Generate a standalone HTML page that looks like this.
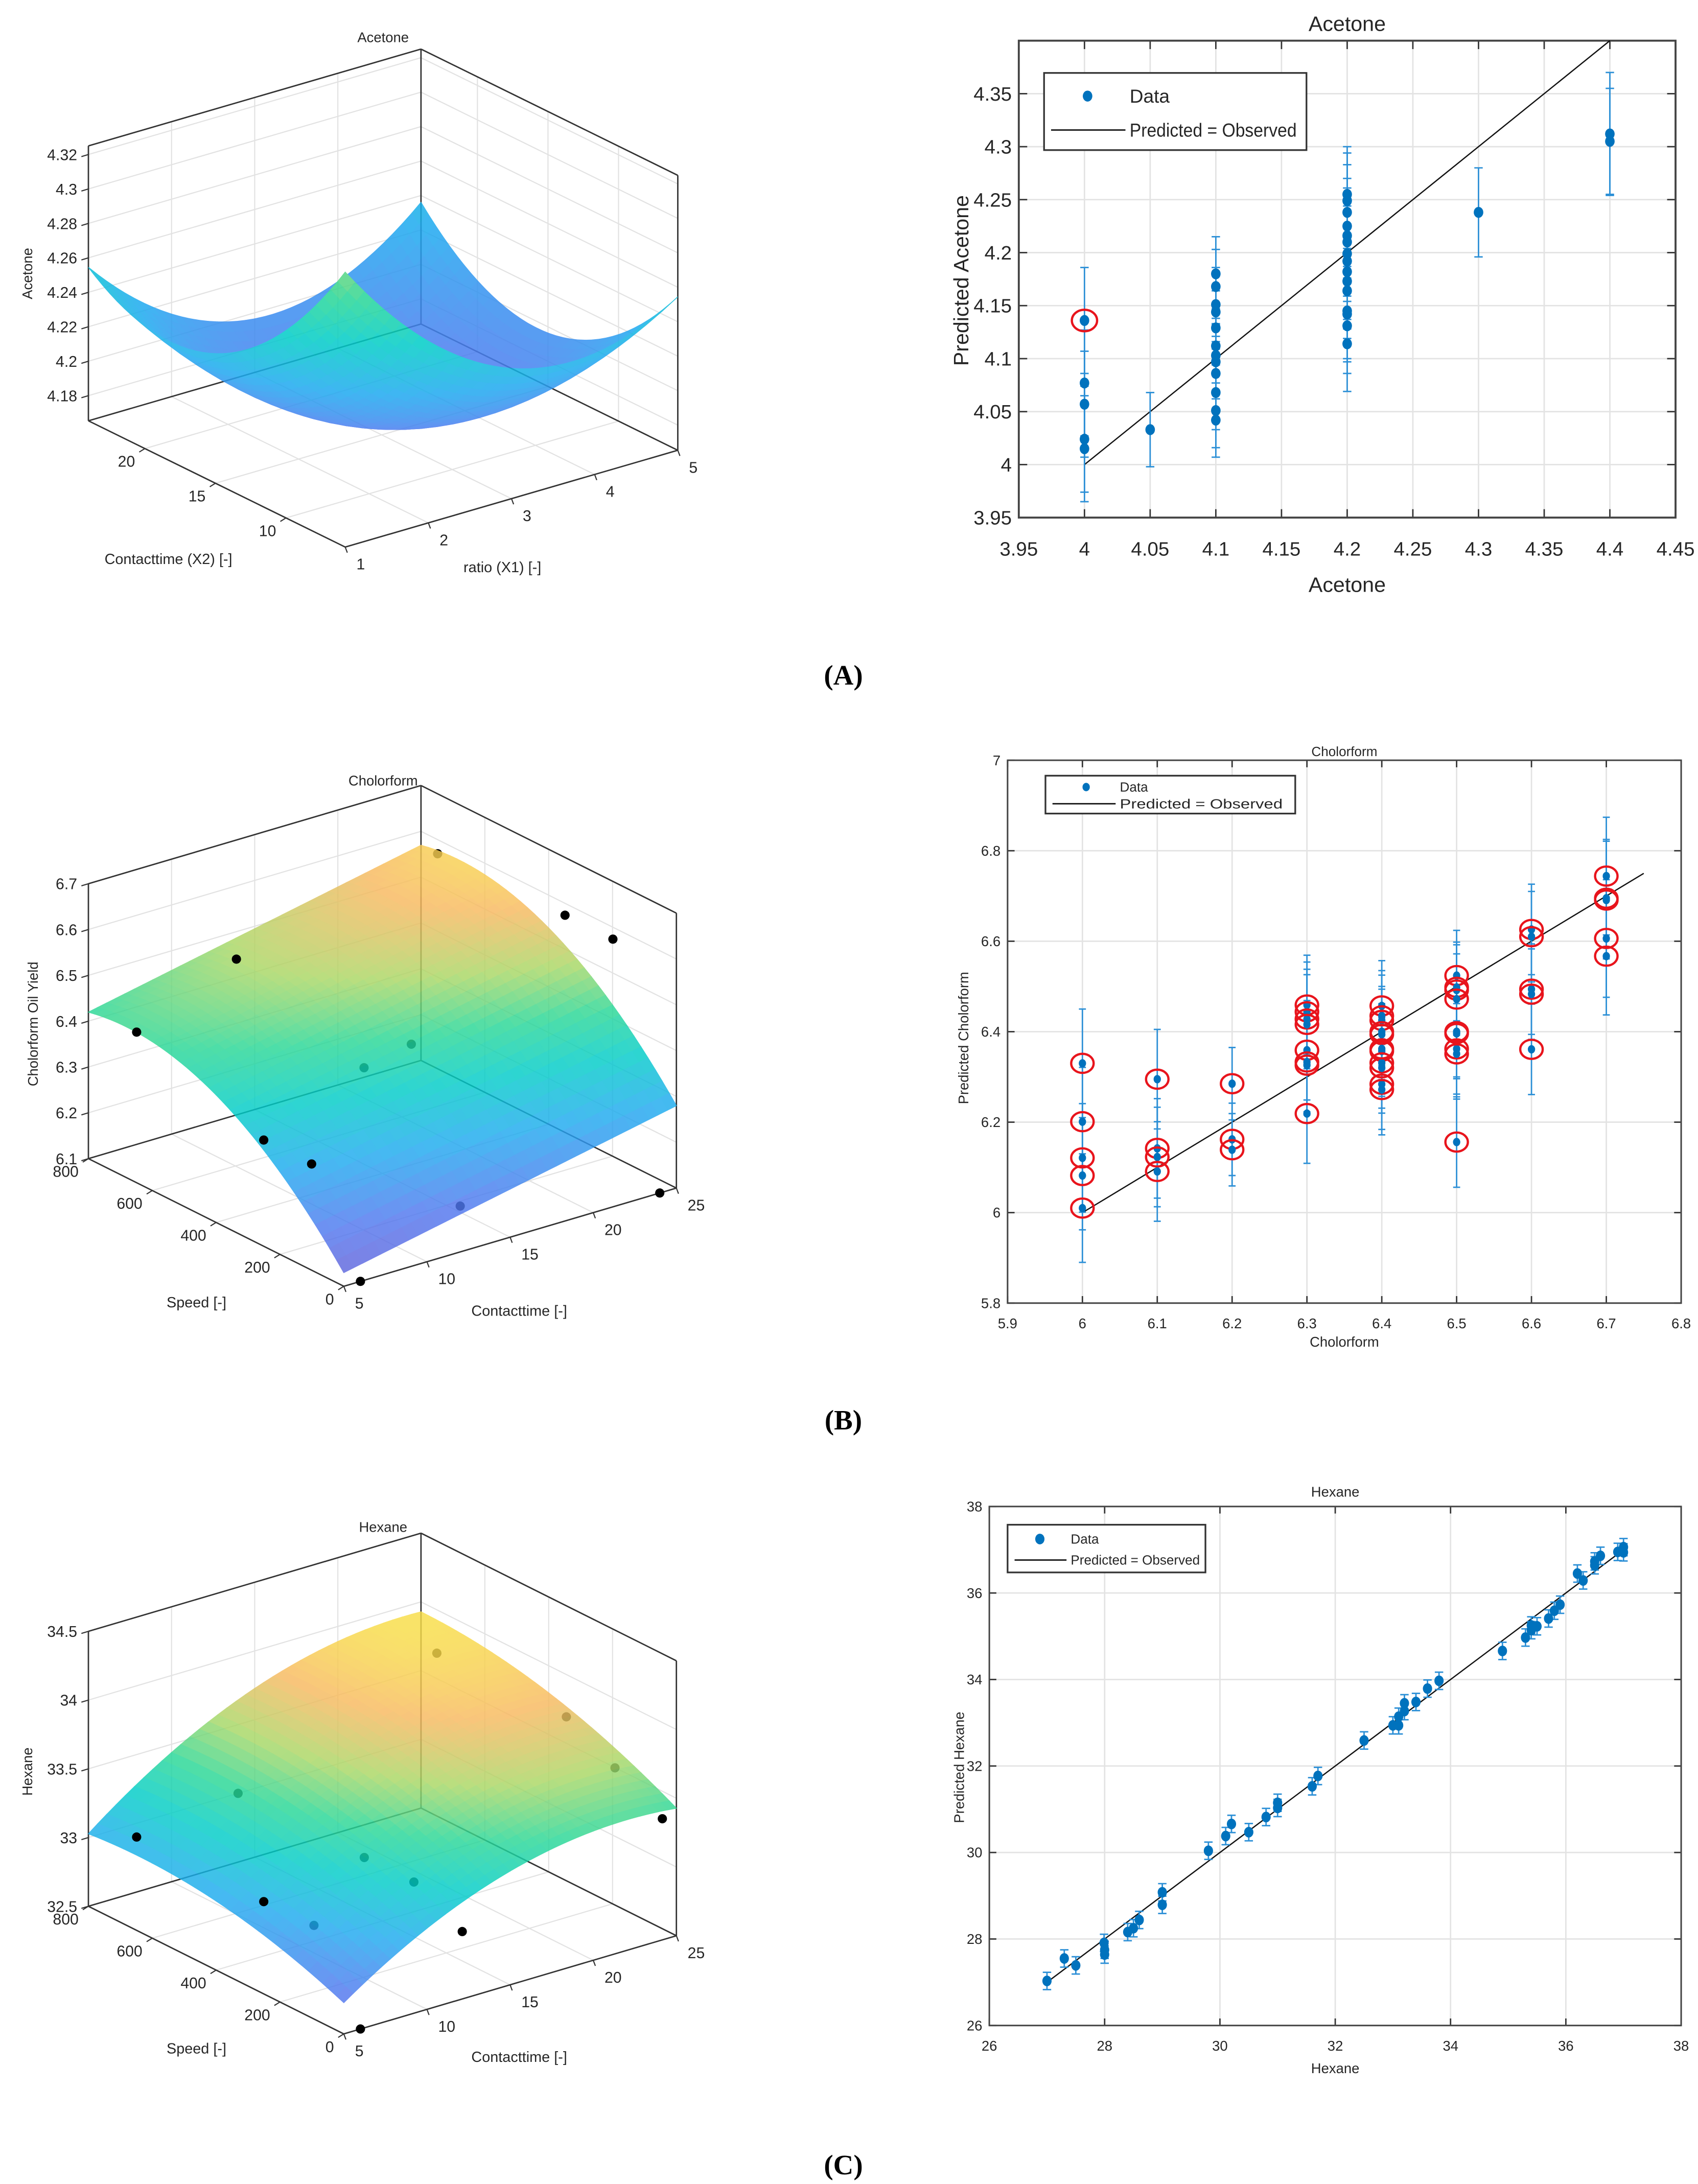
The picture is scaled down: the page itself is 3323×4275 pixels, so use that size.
<!DOCTYPE html>
<html><head><meta charset="utf-8">
<style>
html,body{margin:0;padding:0;background:#fff;}
svg{display:block;font-family:"Liberation Sans",Arial,sans-serif;}
</style></head>
<body>
<svg id="fig" xmlns="http://www.w3.org/2000/svg" width="3323" height="4275" viewBox="0 0 1210 1557" preserveAspectRatio="none">
<rect x="0" y="0" width="1210" height="1557" fill="#fff"/>
<text x="601" y="488" font-family="Liberation Serif,serif" font-weight="bold" font-size="20" text-anchor="middle">(A)</text>
<text x="601" y="1019" font-family="Liberation Serif,serif" font-weight="bold" font-size="20" text-anchor="middle">(B)</text>
<text x="601" y="1550" font-family="Liberation Serif,serif" font-weight="bold" font-size="20" text-anchor="middle">(C)</text>
</svg>
<script>
// ---------- Scatter data: Acetone ----------
const aX=[4,4,4,4,4,4.05,4.1,4.1,4.1,4.1,4.1,4.1,4.1,4.1,4.1,4.1,4.1,4.1,4.2,4.2,4.2,4.2,4.2,4.2,4.2,4.2,4.2,4.2,4.2,4.2,4.2,4.2,4.2,4.3,4.4,4.4];
const aY=[4.136,4.077,4.057,4.024,4.015,4.033,4.18,4.168,4.151,4.144,4.129,4.112,4.103,4.097,4.086,4.068,4.051,4.042,4.255,4.249,4.238,4.225,4.216,4.21,4.199,4.192,4.182,4.173,4.164,4.145,4.142,4.131,4.114,4.238,4.312,4.305];
const aErr=[0.05,0.05,0.05,0.05,0.05,0.035,0.035,0.035,0.035,0.035,0.035,0.035,0.035,0.035,0.035,0.035,0.035,0.035,0.045,0.045,0.045,0.045,0.045,0.045,0.045,0.045,0.045,0.045,0.045,0.045,0.045,0.045,0.045,0.042,0.058,0.05];
const aCircled=[1,0,0,0,0,0,0,0,0,0,0,0,0,0,0,0,0,0,0,0,0,0,0,0,0,0,0,0,0,0,0,0,0,0,0,0];
const aXTicks=[3.95,4,4.05,4.1,4.15,4.2,4.25,4.3,4.35,4.4,4.45];
const aXLabels=["3.95","4","4.05","4.1","4.15","4.2","4.25","4.3","4.35","4.4","4.45"];
const aYTicks=[3.95,4,4.05,4.1,4.15,4.2,4.25,4.3,4.35];
const aYLabels=["3.95","4","4.05","4.1","4.15","4.2","4.25","4.3","4.35"];
const aLine=[4,4.4];
// ---------- Scatter data: Cholorform ----------
const bX=[6,6,6,6,6,6.1,6.1,6.1,6.1,6.2,6.2,6.2,6.3,6.3,6.3,6.3,6.3,6.3,6.3,6.3,6.4,6.4,6.4,6.4,6.4,6.4,6.4,6.4,6.4,6.4,6.4,6.5,6.5,6.5,6.5,6.5,6.5,6.5,6.5,6.5,6.6,6.6,6.6,6.6,6.6,6.7,6.7,6.7,6.7,6.7];
const bY=[6.33,6.201,6.121,6.082,6.01,6.295,6.142,6.123,6.091,6.285,6.162,6.139,6.459,6.444,6.428,6.416,6.359,6.333,6.326,6.219,6.457,6.435,6.425,6.40,6.394,6.362,6.357,6.331,6.32,6.284,6.272,6.524,6.498,6.492,6.472,6.40,6.396,6.362,6.351,6.156,6.626,6.61,6.494,6.483,6.361,6.744,6.695,6.691,6.606,6.567];
const bErrGroup=[0.12,0.11,0.08,0.11,0.1,0.1,0.1,0.13];
const bXTicks=[5.9,6,6.1,6.2,6.3,6.4,6.5,6.6,6.7,6.8];
const bXLabels=["5.9","6","6.1","6.2","6.3","6.4","6.5","6.6","6.7","6.8"];
const bYTicks=[5.8,6,6.2,6.4,6.6,6.8,7];
const bYLabels=["5.8","6","6.2","6.4","6.6","6.8","7"];
const bLine=[6,6.75];
// ---------- Scatter data: Hexane ----------
const cX=[27.0,27.3,27.5,27.99,28,28,28.4,28.5,28.6,29,29,29.8,30.1,30.2,30.5,30.8,31.0,31.0,31.6,31.7,32.5,33.0,33.1,33.1,33.2,33.2,33.4,33.6,33.8,34.9,35.3,35.4,35.4,35.5,35.7,35.8,35.9,36.2,36.3,36.5,36.5,36.6,36.9,37.0,37.0];
const cY=[27.03,27.55,27.39,27.91,27.75,27.64,28.16,28.25,28.44,29.08,28.79,30.04,30.38,30.66,30.47,30.82,31.15,31.03,31.53,31.77,32.59,32.94,32.94,33.14,33.27,33.45,33.48,33.79,33.97,34.66,34.97,35.14,35.25,35.23,35.41,35.59,35.73,36.45,36.29,36.64,36.73,36.86,36.95,37.06,36.94];
const cErr=0.2;
const cXTicks=[26,28,30,32,34,36,38];
const cXLabels=["26","28","30","32","34","36","38"];
const cYTicks=[26,28,30,32,34,36,38];
const cYLabels=["26","28","30","32","34","36","38"];
const cLine=[27,36.95];
// ---------- 3D data ----------
const bCt=[7.9,13.9,11.3,11.3,11.9,17.2,22.2,24.1,24.1,12,24,6];
const bSp=[800,800,579,429,296,424,602,302,152,0,0,0];
const bYl=[6.345,6.44,6.15,6.15,6.40,6.35,6.65,6.6,6.6,6.2,6.1,6.1];
const bHidden=[0,0,0,0,1,1,1,1,0,1,0,0];
const cCt=[7.9,14,9.9,10,10.8,12.9,18.6,21.8,22.9,14.1,25,6];
const cSp=[800,800,506,354,238,192,417,178,83,103,44,0];
const cYl=[32.9,33.0,32.7,32.7,33.3,33.1,34.3,34.0,33.7,32.8,33.3,32.5];
const cHidden=[0,1,0,1,1,1,1,1,1,1,0,0];
const aZTicks=[4.18,4.2,4.22,4.24,4.26,4.28,4.3,4.32];
const aZLabels=["4.18","4.2","4.22","4.24","4.26","4.28","4.3","4.32"];
const bZTicks=[6.1,6.2,6.3,6.4,6.5,6.6,6.7];
const bZLabels=["6.1","6.2","6.3","6.4","6.5","6.6","6.7"];
const cZTicks=[32.5,33,33.5,34,34.5];
const cZLabels=["32.5","33","33.5","34","34.5"];
const ratioTicks=[1,2,3,4,5];
const ctTicksA=[10,15,20];
const ctTicksBC=[5,10,15,20,25];
const speedTicks=[0,200,400,600,800];

const NS='http://www.w3.org/2000/svg';
const svg=document.getElementById('fig');
function mk(tag,attrs,parent){const e=document.createElementNS(NS,tag);for(const k in attrs)e.setAttribute(k,attrs[k]);(parent||svg).appendChild(e);return e;}
function txt(parent,x,y,s,size,anchor,extra){const t=mk('text',Object.assign({x:x,y:y,'font-size':size,'text-anchor':anchor||'middle',fill:'#262626'},extra||{}),parent);t.textContent=s;return t;}

// ---------- 2D scatter ----------
function scatter(p){
  const g=mk('g',{});
  
  
  const sx=v=>p.px0+(v-p.x0)/(p.x1-p.x0)*(p.px1-p.px0);
  const sy=v=>p.py0+(v-p.y0)/(p.y1-p.y0)*(p.py1-p.py0);
  const L=p.px0,Rt=p.px1,B=p.py0,T=p.py1;
  p.xt.forEach((v,i)=>{
    const x=sx(v);
    const gl=mk('line',{x1:x,x2:x,y1:T,y2:B,stroke:'#e3e3e3','stroke-width':1},g);
    
    
    mk('line',{x1:x,x2:x,y1:B,y2:B-p.tk,stroke:'#333','stroke-width':1},g);
    mk('line',{x1:x,x2:x,y1:T,y2:T+p.tk,stroke:'#333','stroke-width':1},g);
    const t=txt(g,x,B+p.xlo,p.xl[i],p.fs);
    
    
  });
  p.yt.forEach((v,i)=>{
    const y=sy(v);
    const gl=mk('line',{x1:L,x2:Rt,y1:y,y2:y,stroke:'#e3e3e3','stroke-width':1},g);
    
    
    mk('line',{x1:L,x2:L+p.tk,y1:y,y2:y,stroke:'#333','stroke-width':1},g);
    mk('line',{x1:Rt,x2:Rt-p.tk,y1:y,y2:y,stroke:'#333','stroke-width':1},g);
    const t=txt(g,L-5,y+p.fs*0.35,p.yl[i],p.fs,'end');
    
    
  });
  const box=mk('rect',{x:L,y:T,width:Rt-L,height:B-T,fill:'none',stroke:'#444','stroke-width':p.bw},g);
  
  
  const ln=mk('line',{x1:sx(p.line[0]),y1:sy(p.line[0]),x2:sx(p.line[1]),y2:sy(p.line[1]),stroke:'#111','stroke-width':0.9},g);
  
  
  for(let i=0;i<p.X.length;i++){
    const x=sx(p.X[i]);const e=p.err(i);
    const eb=mk('path',{d:`M${x} ${sy(p.Y[i]-e)}V${sy(p.Y[i]+e)}M${x-p.cap} ${sy(p.Y[i]-e)}h${2*p.cap}M${x-p.cap} ${sy(p.Y[i]+e)}h${2*p.cap}`,stroke:'#2b8fd6','stroke-width':1,fill:'none'},g);
    
    
  }
  for(let i=0;i<p.X.length;i++){
    const x=sx(p.X[i]),y=sy(p.Y[i]);
    const d=mk('ellipse',{cx:x,cy:y,rx:p.r,ry:p.r*1.15,fill:'#0072bd'},g);
    
    
    if(p.circ(i)){
      const c=mk('ellipse',{cx:x,cy:y,rx:p.cr,ry:p.cr*0.85,fill:'none',stroke:'#e8141c','stroke-width':1.6},g);
      
      
    }
  }
  const tt=txt(g,(L+Rt)/2,p.ty,p.title,p.tfs);
  
  
  const xa=txt(g,(L+Rt)/2,p.xay,p.xlabel,p.afs);
  
  
  const ya=txt(g,0,0,p.ylabel,p.afs,'middle',{transform:`translate(${p.yax},${p.yay}) rotate(-90)`});
  
  
  const lg=p.lg;
  const lgb=mk('rect',{x:lg[0],y:lg[1],width:lg[2]-lg[0],height:lg[3]-lg[1],fill:'#fff',stroke:'#333','stroke-width':1.2},g);
  
  
  const h=lg[3]-lg[1];
  const y1=lg[1]+h*0.3,y2=lg[1]+h*0.74;
  const lm=mk('ellipse',{cx:lg[0]+p.lgm,cy:y1,rx:p.r,ry:p.r*1.15,fill:'#0072bd'},g);
  
  
  const t1=txt(g,lg[0]+p.lgt,y1+p.lfs*0.35,'Data',p.lfs,'start');
  
  
  const ll=mk('line',{x1:lg[0]+5,x2:lg[0]+p.lgt-3,y1:y2,y2:y2,stroke:'#111','stroke-width':1},g);
  
  
  const t2=txt(g,lg[0]+p.lgt,y2+p.lfs*0.35,'Predicted = Observed',p.lfs,'start',{textLength:p.lgw,lengthAdjust:'spacingAndGlyphs'});
  
  
}
scatter({name:'acetone-parity-plot',X:aX,Y:aY,err:i=>aErr[i],circ:i=>aCircled[i],x0:3.95,x1:4.45,px0:726,px1:1194,y0:3.95,y1:4.40,py0:369,py1:29,
  xt:aXTicks,xl:aXLabels,yt:aYTicks,yl:aYLabels,line:aLine,fs:14,tk:6,xlo:27,bw:1.4,r:3.4,cr:9,cap:3,
  title:'Acetone',ty:22,tfs:15,xlabel:'Acetone',xay:422,afs:15,ylabel:'Predicted Acetone',yax:690,yay:200,lg:[744,52,931,107],lgm:31,lgt:61,lfs:13.5,lgw:119});
const bGroupIdx=v=>Math.round((v-6)*10);
scatter({name:'cholorform-parity-plot',X:bX,Y:bY,err:i=>bErrGroup[bGroupIdx(bX[i])],circ:i=>1,x0:5.9,x1:6.8,px0:718,px1:1198,y0:5.8,y1:7,py0:929,py1:542,
  xt:bXTicks,xl:bXLabels,yt:bYTicks,yl:bYLabels,line:bLine,fs:10,tk:5,xlo:18,bw:1.1,r:2.6,cr:8,cap:2.5,
  title:'Cholorform',ty:539,tfs:9.5,xlabel:'Cholorform',xay:960,afs:10,ylabel:'Predicted Cholorform',yax:690,yay:740,lg:[745,553,923,580],lgm:29,lgt:53,lfs:9.5,lgw:116});
scatter({name:'hexane-parity-plot',X:cX,Y:cY,err:i=>cErr,circ:i=>0,x0:26,x1:38,px0:705,px1:1198,y0:26,y1:38,py0:1444,py1:1074,
  xt:cXTicks,xl:cXLabels,yt:cYTicks,yl:cYLabels,line:cLine,fs:10,tk:5,xlo:18,bw:1.1,r:3.3,cr:0,cap:3,
  title:'Hexane',ty:1067,tfs:10,xlabel:'Hexane',xay:1478,afs:10,ylabel:'Predicted Hexane',yax:687,yay:1260,lg:[718,1087,859,1121],lgm:23,lgt:45,lfs:9.5,lgw:92});

// ---------- 3D surface plots ----------
const parulaStops=[[0,[106,90,210]],[0.18,[80,120,240]],[0.35,[30,170,240]],[0.5,[0,205,200]],[0.62,[40,215,150]],[0.74,[170,215,100]],[0.86,[248,185,95]],[1,[248,240,60]]];
function cmap(t){t=Math.max(0,Math.min(1,t));for(let i=1;i<parulaStops.length;i++){if(t<=parulaStops[i][0]){const[a0,c0]=parulaStops[i-1],[a1,c1]=parulaStops[i];const f=(t-a0)/(a1-a0);return `rgb(${c0.map((c,k)=>Math.round(c+(c1[k]-c)*f)).join(',')})`;}}return 'rgb(248,240,60)';}
function plot3d(p){
  const g=mk('g',{});
  
  
  const F=p.F,R=p.R,L=p.L,H=p.H;
  const P=(a,b,z)=>[F[0]+a*(R[0]-F[0])+b*(L[0]-F[0]),F[1]+a*(R[1]-F[1])+b*(L[1]-F[1])-(z-p.z0)/(p.z1-p.z0)*H];
  const ua=v=>(v-p.a0)/(p.a1-p.a0), ub=v=>(v-p.b0)/(p.b1-p.b0);
  const line=(q1,q2,st,w,nm)=>{const l=mk('line',{x1:q1[0],y1:q1[1],x2:q2[0],y2:q2[1],stroke:st,'stroke-width':w},g);return l;};
  const gc='#e2e2e2';
  p.zt.forEach(z=>{line(P(0,1,z),P(1,1,z),gc,0.8,'z-grid-line');line(P(1,1,z),P(1,0,z),gc,0.8,'z-grid-line');});
  p.at.forEach(v=>{const a=ua(v);line(P(a,0,p.z0),P(a,1,p.z0),gc,0.8,'floor-grid-line');line(P(a,1,p.z0),P(a,1,p.z1),gc,0.8,'wall-grid-line');});
  p.bt.forEach(v=>{const b=ub(v);line(P(0,b,p.z0),P(1,b,p.z0),gc,0.8,'floor-grid-line');line(P(1,b,p.z0),P(1,b,p.z1),gc,0.8,'wall-grid-line');});
  const ec='#333';
  line(P(0,1,p.z0),P(0,1,p.z1),ec,1,'box-edge');line(P(1,1,p.z0),P(1,1,p.z1),ec,1,'box-edge');line(P(1,0,p.z0),P(1,0,p.z1),ec,1,'box-edge');
  line(P(0,1,p.z1),P(1,1,p.z1),ec,1,'box-edge');line(P(1,1,p.z1),P(1,0,p.z1),ec,1,'box-edge');
  line(P(0,1,p.z0),P(1,1,p.z0),ec,1,'box-edge');line(P(1,1,p.z0),P(1,0,p.z0),ec,1,'box-edge');
  line(P(0,1,p.z0),P(0,0,p.z0),ec,1,'box-edge');line(P(0,0,p.z0),P(1,0,p.z0),ec,1,'box-edge');
  const pts=p.pts;
  const drawPt=(i)=>{const q=P(ua(pts.a[i]),ub(pts.b[i]),pts.z[i]);const c=mk('circle',{cx:q[0],cy:q[1],r:3.3,fill:'#000'},g);};
  if(pts){for(let i=0;i<pts.a.length;i++)if(pts.h[i])drawPt(i);}
  const N=36,quads=[];
  for(let i=0;i<N;i++)for(let j=0;j<N;j++){
    const a0=i/N,a1=(i+1)/N,b0=j/N,b1=(j+1)/N;
    const zs=[p.f(a0,b0),p.f(a1,b0),p.f(a1,b1),p.f(a0,b1)];
    const pp=[P(a0,b0,zs[0]),P(a1,b0,zs[1]),P(a1,b1,zs[2]),P(a0,b1,zs[3])];
    const zm=(zs[0]+zs[1]+zs[2]+zs[3])/4;
    quads.push({d:(a0+a1+b0+b1),pp:pp,c:cmap((zm-p.c0)/(p.c1-p.c0))});
  }
  quads.sort((u,v)=>v.d-u.d);
  const sg=mk('g',{opacity:p.op},g);
  
  
  quads.forEach(q=>{const pl=mk('polygon',{points:q.pp.map(v=>v[0].toFixed(2)+','+v[1].toFixed(2)).join(' '),fill:q.c,stroke:q.c,'stroke-width':0.6},sg);});
  if(pts){for(let i=0;i<pts.a.length;i++)if(!pts.h[i])drawPt(i);}
  p.zt.forEach((z,i)=>{const q=P(0,1,z);line(q,[q[0]-5,q[1]+1.5],ec,0.8,'z-tick');const t=txt(g,q[0]-8,q[1]+4,p.zl[i],11,'end');});
  p.at.forEach(v=>{const q=P(ua(v),0,p.z0);line(q,[q[0]+1.5,q[1]+4],ec,0.8,'x-tick');const t=txt(g,q[0]+8,q[1]+16,String(v),11,'start');});
  p.bt.forEach(v=>{const q=P(0,ub(v),p.z0);line(q,[q[0]-4,q[1]+2.5],ec,0.8,'y-tick');const t=txt(g,q[0]-7,q[1]+13,String(v),11,'end');});
  const tt=txt(g,p.title[1],p.title[2],p.title[0],10);
  
  
  const zl=txt(g,0,0,p.zlab[0],10,'middle',{transform:`translate(${p.zlab[1]},${p.zlab[2]}) rotate(-90)`});
  
  
  const xl=txt(g,p.xlab[1],p.xlab[2],p.xlab[0],10.5);
  
  
  const yl=txt(g,p.ylab[1],p.ylab[2],p.ylab[0],10.5);
  
  
}
plot3d({name:'acetone-surface-plot',F:[246,390],R:[483,321],L:[63,300],H:196,z0:4.1654,z1:4.325,a0:1,a1:5,b0:5.8,b1:24,
  f:(a,b)=>4.17+0.195*((a-.5)*(a-.5)+(b-.5)*(b-.5))+0.052*(a-.5)*(b-.5)-0.0445*(a+b-1),c0:4.12,c1:4.42,op:0.85,
  zt:aZTicks,zl:aZLabels,at:ratioTicks,bt:ctTicksA,pts:null,
  title:['Acetone',273,30],zlab:['Acetone',23,195],xlab:['ratio (X1) [-]',358,408],ylab:['Contacttime (X2) [-]',120,402]});
plot3d({name:'cholorform-surface-plot',F:[245,917],R:[482,847],L:[63,826],H:196,z0:6.1,z1:6.7,a0:5,a1:25,b0:0,b1:800,
  f:(a,b)=>6.429+0.15*a-0.414*(b-0.85)*(b-0.85),c0:6.1,c1:6.62,op:0.82,
  zt:bZTicks,zl:bZLabels,at:ctTicksBC,bt:speedTicks,pts:{a:bCt,b:bSp,z:bYl,h:bHidden},
  title:['Cholorform',273,560],zlab:['Cholorform Oil Yield',27,730],xlab:['Contacttime [-]',370,938],ylab:['Speed [-]',140,932]});
plot3d({name:'hexane-surface-plot',F:[245,1450],R:[482,1380],L:[63,1359],H:196,z0:32.5,z1:34.5,a0:5,a1:25,b0:0,b1:800,
  f:(a,b)=>33.77-1.0*(a-.85)*(a-.85)-0.5*(b-.8)*(b-.8)+0.2*a*b,c0:32.5,c1:34.0,op:0.82,
  zt:cZTicks,zl:cZLabels,at:ctTicksBC,bt:speedTicks,pts:{a:cCt,b:cSp,z:cYl,h:cHidden},
  title:['Hexane',273,1092],zlab:['Hexane',23,1263],xlab:['Contacttime [-]',370,1470],ylab:['Speed [-]',140,1464]});
</script>
</body></html>
